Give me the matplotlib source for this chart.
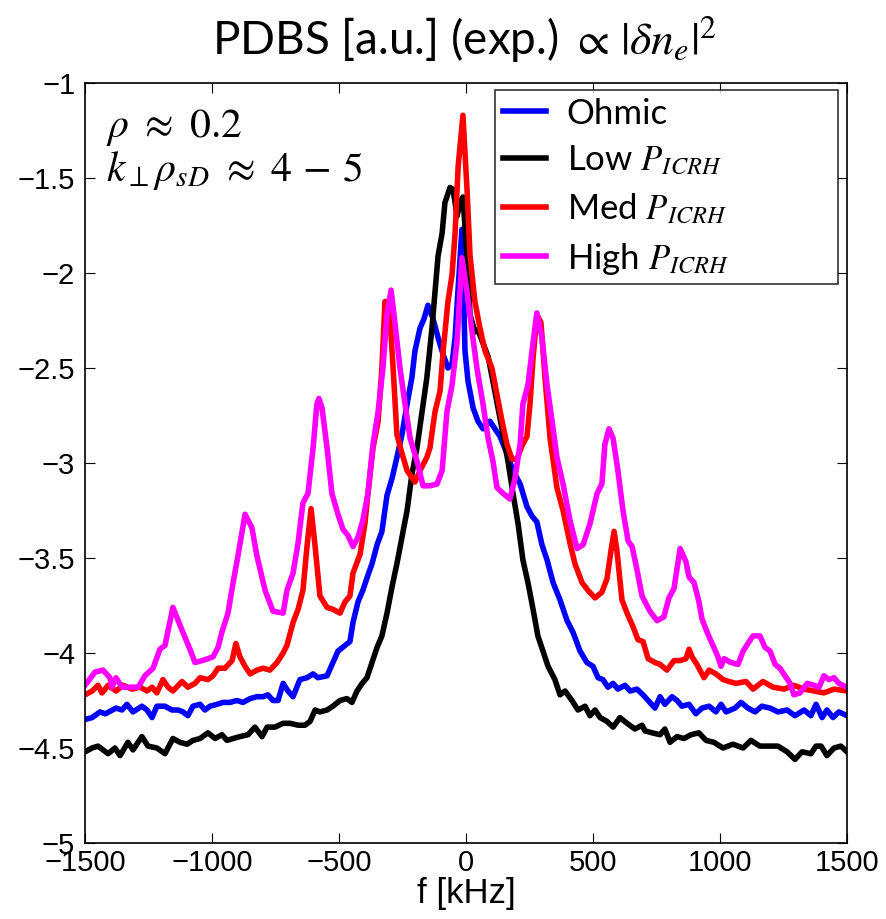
import matplotlib
matplotlib.use("Agg")
import matplotlib.pyplot as plt

# ---------------- data ----------------
ohmic_f = [-1500, -1472, -1441, -1420, -1378, -1354, -1335, -1311, -1276, -1256, -1236, -1217,
           -1185, -1158, -1134, -1114, -1095, -1075, -1047, -1028, -1008, -980, -957, -929,
           -902, -878, -850, -823, -799, -780, -760, -740, -720, -701, -681, -654, -626, -602,
           -583, -547, -524, -504, -476, -457, -445, -425, -406, -386, -370, -350, -331, -311,
           -291, -272, -252, -232, -213, -201, -181, -165, -150, -130, -110, -90, -71, -55,
           -43, -31, -16, -4, 8, 28, 47, 67, 94, 114, 134, 161, 185, 213, 240, 260, 279, 299,
           319, 343, 370, 398, 421, 449, 476, 500, 520, 539, 559, 579, 598, 626, 646, 673, 697,
           724, 744, 764, 783, 811, 831, 850, 878, 905, 929, 957, 984, 1004, 1024, 1059, 1083,
           1110, 1138, 1165, 1197, 1228, 1264, 1295, 1331, 1358, 1378, 1402, 1421, 1445, 1468, 1500]
ohmic_v = [-4.35, -4.34, -4.31, -4.32, -4.29, -4.30, -4.27, -4.31, -4.28, -4.30, -4.34, -4.28,
           -4.28, -4.30, -4.30, -4.31, -4.33, -4.28, -4.27, -4.30, -4.28, -4.27, -4.26, -4.26,
           -4.25, -4.26, -4.24, -4.23, -4.23, -4.22, -4.25, -4.25, -4.16, -4.20, -4.23, -4.14,
           -4.13, -4.11, -4.13, -4.12, -4.05, -3.99, -3.96, -3.94, -3.84, -3.73, -3.67, -3.59,
           -3.53, -3.43, -3.36, -3.17, -3.08, -2.97, -2.85, -2.69, -2.55, -2.41, -2.29, -2.24,
           -2.17, -2.24, -2.34, -2.43, -2.50, -2.48, -2.34, -2.08, -1.77, -2.41, -2.57, -2.71,
           -2.78, -2.82, -2.78, -2.82, -2.86, -2.95, -3.04, -3.11, -3.23, -3.28, -3.31, -3.43,
           -3.51, -3.63, -3.72, -3.83, -3.89, -3.99, -4.05, -4.07, -4.13, -4.14, -4.18, -4.16,
           -4.19, -4.17, -4.20, -4.19, -4.22, -4.26, -4.29, -4.23, -4.27, -4.23, -4.25, -4.28,
           -4.27, -4.32, -4.29, -4.28, -4.31, -4.27, -4.31, -4.29, -4.26, -4.29, -4.31, -4.28,
           -4.29, -4.31, -4.30, -4.33, -4.30, -4.33, -4.27, -4.34, -4.30, -4.34, -4.31, -4.33]

low_f = [-1500, -1472, -1449, -1409, -1382, -1362, -1331, -1311, -1276, -1252, -1217, -1185,
         -1154, -1126, -1098, -1075, -1047, -1016, -988, -961, -941, -917, -890, -858, -831,
         -803, -783, -752, -720, -693, -661, -634, -614, -594, -575, -547, -524, -496, -469,
         -449, -429, -409, -390, -370, -350, -331, -311, -291, -272, -252, -232, -213, -193,
         -173, -154, -134, -122, -110, -94, -83, -63, -51, -35, -24, -12, 4, 16, 35, 47, 67,
         87, 106, 126, 146, 165, 185, 205, 224, 244, 264, 283, 303, 323, 350, 370, 390, 417,
         441, 469, 488, 508, 528, 555, 579, 606, 634, 665, 693, 705, 732, 764, 783, 803, 831,
         858, 886, 917, 945, 976, 1012, 1051, 1091, 1122, 1157, 1189, 1228, 1264, 1295, 1323,
         1358, 1378, 1398, 1421, 1449, 1476, 1500]
low_v = [-4.52, -4.50, -4.49, -4.53, -4.50, -4.54, -4.47, -4.51, -4.44, -4.49, -4.50, -4.53,
         -4.45, -4.47, -4.48, -4.46, -4.45, -4.42, -4.45, -4.43, -4.46, -4.45, -4.44, -4.43,
         -4.39, -4.44, -4.39, -4.39, -4.37, -4.37, -4.38, -4.38, -4.36, -4.30, -4.31, -4.30,
         -4.28, -4.25, -4.24, -4.26, -4.20, -4.16, -4.13, -4.05, -3.97, -3.91, -3.79, -3.65,
         -3.53, -3.39, -3.25, -3.06, -2.92, -2.73, -2.55, -2.29, -2.10, -1.91, -1.79, -1.63,
         -1.55, -1.56, -1.70, -1.63, -1.60, -1.91, -2.22, -2.31, -2.30, -2.37, -2.44, -2.57,
         -2.71, -2.85, -2.99, -3.16, -3.32, -3.51, -3.63, -3.77, -3.91, -3.99, -4.07, -4.14,
         -4.22, -4.20, -4.25, -4.30, -4.28, -4.33, -4.30, -4.34, -4.36, -4.39, -4.34, -4.37,
         -4.40, -4.38, -4.41, -4.42, -4.43, -4.40, -4.47, -4.44, -4.45, -4.43, -4.42, -4.46,
         -4.47, -4.50, -4.48, -4.50, -4.46, -4.49, -4.49, -4.49, -4.52, -4.56, -4.52, -4.53,
         -4.49, -4.49, -4.54, -4.50, -4.49, -4.52]

med_f = [-1500, -1472, -1449, -1433, -1409, -1378, -1350, -1315, -1283, -1256, -1236, -1217,
         -1193, -1173, -1154, -1118, -1095, -1067, -1047, -1016, -996, -976, -949, -921, -906,
         -890, -870, -850, -823, -799, -772, -744, -720, -705, -681, -661, -642, -626, -610,
         -594, -575, -547, -524, -496, -476, -457, -445, -417, -398, -386, -366, -346, -331,
         -319, -303, -287, -272, -252, -232, -201, -181, -154, -142, -122, -102, -90, -71,
         -55, -43, -31, -12, 4, 16, 35, 55, 75, 102, 122, 142, 161, 181, 201, 220, 240, 252,
         264, 279, 295, 311, 331, 358, 382, 409, 429, 457, 480, 508, 535, 555, 571, 583, 594,
         614, 634, 657, 677, 697, 717, 744, 764, 791, 819, 843, 866, 878, 890, 909, 937, 957,
         984, 1012, 1035, 1063, 1102, 1130, 1169, 1209, 1252, 1291, 1331, 1370, 1409, 1449, 1500]
med_v = [-4.22, -4.20, -4.17, -4.21, -4.17, -4.20, -4.17, -4.19, -4.18, -4.20, -4.18, -4.21,
         -4.14, -4.18, -4.20, -4.15, -4.18, -4.16, -4.13, -4.14, -4.12, -4.08, -4.08, -4.04,
         -3.95, -4.02, -4.07, -4.11, -4.09, -4.08, -4.09, -4.05, -4.00, -3.96, -3.84, -3.77,
         -3.67, -3.44, -3.24, -3.44, -3.70, -3.76, -3.77, -3.79, -3.73, -3.70, -3.58, -3.48,
         -3.32, -3.16, -2.92, -2.78, -2.50, -2.15, -2.15, -2.50, -2.85, -2.95, -3.04, -3.10,
         -3.04, -2.97, -2.92, -2.73, -2.62, -2.41, -2.15, -2.01, -1.79, -1.44, -1.17, -1.56,
         -1.91, -2.15, -2.29, -2.41, -2.50, -2.64, -2.78, -2.90, -2.98, -2.98, -2.91, -2.86,
         -2.69, -2.45, -2.22, -2.26, -2.55, -2.87, -3.13, -3.25, -3.42, -3.53, -3.63, -3.67,
         -3.71, -3.68, -3.61, -3.46, -3.36, -3.46, -3.72, -3.79, -3.86, -3.93, -3.94, -4.03,
         -4.05, -4.06, -4.09, -4.04, -4.04, -4.03, -3.98, -4.02, -4.06, -4.13, -4.09, -4.11,
         -4.14, -4.15, -4.16, -4.15, -4.19, -4.15, -4.18, -4.19, -4.17, -4.19, -4.20, -4.21,
         -4.19, -4.20]

high_f = [-1500, -1460, -1429, -1402, -1394, -1378, -1354, -1331, -1291, -1264, -1232, -1205,
          -1185, -1154, -1118, -1087, -1067, -1039, -1016, -996, -976, -961, -937, -917, -898,
          -870, -843, -823, -791, -760, -720, -705, -681, -661, -642, -622, -602, -587, -579,
          -567, -547, -528, -504, -484, -465, -445, -425, -406, -386, -366, -346, -327, -311,
          -295, -280, -260, -240, -220, -193, -169, -142, -114, -94, -75, -55, -35, -16, 4, 24,
          43, 67, 87, 106, 122, 146, 173, 193, 213, 224, 244, 260, 279, 299, 319, 339, 358, 382,
          409, 437, 461, 488, 516, 535, 547, 563, 579, 598, 618, 638, 654, 673, 693, 724, 752,
          779, 799, 819, 843, 866, 878, 898, 917, 929, 949, 972, 992, 1004, 1016, 1043, 1071,
          1091, 1110, 1130, 1157, 1177, 1197, 1217, 1236, 1256, 1276, 1291, 1315, 1343, 1370,
          1390, 1409, 1429, 1449, 1468, 1500]
high_v = [-4.17, -4.10, -4.09, -4.13, -4.18, -4.13, -4.18, -4.18, -4.18, -4.12, -4.08, -3.98,
          -3.96, -3.76, -3.88, -3.98, -4.05, -4.04, -4.03, -4.02, -3.97, -3.89, -3.79, -3.63,
          -3.49, -3.27, -3.34, -3.49, -3.67, -3.78, -3.79, -3.67, -3.58, -3.42, -3.21, -3.16,
          -2.92, -2.69, -2.66, -2.71, -2.92, -3.16, -3.27, -3.35, -3.38, -3.44, -3.39, -3.30,
          -3.16, -2.90, -2.73, -2.50, -2.22, -2.09, -2.26, -2.50, -2.69, -2.87, -2.99, -3.12,
          -3.12, -3.11, -3.04, -2.73, -2.59, -2.36, -1.92, -2.10, -2.31, -2.50, -2.69, -2.87,
          -2.99, -3.13, -3.16, -3.19, -3.08, -2.90, -2.69, -2.59, -2.41, -2.21, -2.34, -2.59,
          -2.78, -2.97, -3.11, -3.30, -3.45, -3.43, -3.32, -3.16, -3.11, -2.90, -2.82, -2.87,
          -3.04, -3.25, -3.41, -3.44, -3.56, -3.70, -3.78, -3.83, -3.81, -3.71, -3.66, -3.45,
          -3.52, -3.60, -3.63, -3.73, -3.82, -3.89, -3.96, -4.02, -4.07, -4.03, -4.05, -4.06,
          -3.99, -3.95, -3.91, -3.91, -3.97, -3.99, -4.06, -4.08, -4.12, -4.16, -4.22, -4.21,
          -4.16, -4.17, -4.18, -4.12, -4.14, -4.13, -4.16, -4.18]

series_labels = ["Ohmic", r"Low $P_{ICRH}$", r"Med $P_{ICRH}$", r"High $P_{ICRH}$"]
series_colors = ["#0000ff", "#000000", "#ff0000", "#ff00ff"]

xticks = [-1500, -1000, -500, 0, 500, 1000, 1500]
xtick_labels = ["\u22121500", "\u22121000", "\u2212500", "0", "500", "1000", "1500"]
yticks = [-5, -4.5, -4, -3.5, -3, -2.5, -2, -1.5, -1]
ytick_labels = ["\u22125", "\u22124.5", "\u22124", "\u22123.5", "\u22123", "\u22122.5",
                "\u22122", "\u22121.5", "\u22121"]

title_text = r"PDBS [a.u.] (exp.) $\propto\,|\delta n_e|^2$"
xlabel_text = "f [kHz]"
annot_1 = r"$\rho\ \approx\ 0.2$"
annot_2 = r"$k_{\perp}\rho_{sD}\ \approx\ 4\,-\,5$"

# ---------------- figure ----------------
plt.rcParams["mathtext.fontset"] = "stix"
W, H = 886, 919
fig = plt.figure(figsize=(W / 100, H / 100), dpi=100)
L, R, T, B = 85, 847, 83, 843
ax = fig.add_axes([L / W, (H - B) / H, (R - L) / W, (B - T) / H])

for f, v, lab, col in zip([ohmic_f, low_f, med_f, high_f],
                          [ohmic_v, low_v, med_v, high_v],
                          series_labels, series_colors):
    ax.plot(f, v, color=col, lw=4.0, label=lab, solid_joinstyle="round")

ax.set_xlim(-1500, 1500)
ax.set_ylim(-5, -1)
ax.set_xticks(xticks)
ax.set_xticklabels(xtick_labels)
ax.set_yticks(yticks)
ax.set_yticklabels(ytick_labels)
for lbl in ax.get_xticklabels() + ax.get_yticklabels():
    lbl.set_fontfamily("Liberation Sans")
    lbl.set_fontsize(21)
ax.tick_params(direction="in", length=7, width=0.8, top=True, right=True,
               colors="black")
ax.tick_params(axis="x", pad=4)
ax.tick_params(axis="y", pad=7)
for s in ax.spines.values():
    s.set_linewidth(1.2)

x0 = (495 - L) / (R - L)
x1 = (838 - L) / (R - L)
y1 = (B - 90) / (B - T)
y0 = (B - 282) / (B - T)
leg = ax.legend(loc="upper left", bbox_to_anchor=(x0, y0, x1 - x0, y1 - y0), mode="expand",
                prop={"family": "Lato", "size": 25}, frameon=True, fancybox=False,
                edgecolor="black", handlelength=1.25, handletextpad=0.6,
                labelspacing=0.42, borderpad=0.22, borderaxespad=0)
leg.get_frame().set_linewidth(1.2)
for ln in leg.get_lines():
    ln.set_linewidth(4)

ax.text((106 - L) / (R - L), (B - 127) / (B - T), annot_1, transform=ax.transAxes,
        fontsize=30, va="center", ha="left")
ax.text((106 - L) / (R - L), (B - 170) / (B - T), annot_2, transform=ax.transAxes,
        fontsize=30, va="center", ha="left")

fig.text(465 / W, 1 - 40 / H, title_text, ha="center", va="center",
         fontsize=33, family="Lato")
fig.text(466 / W, 1 - 893 / H, xlabel_text, ha="center", va="center",
         fontsize=25, family="Liberation Sans")

fig.savefig("out.png", dpi=100)
